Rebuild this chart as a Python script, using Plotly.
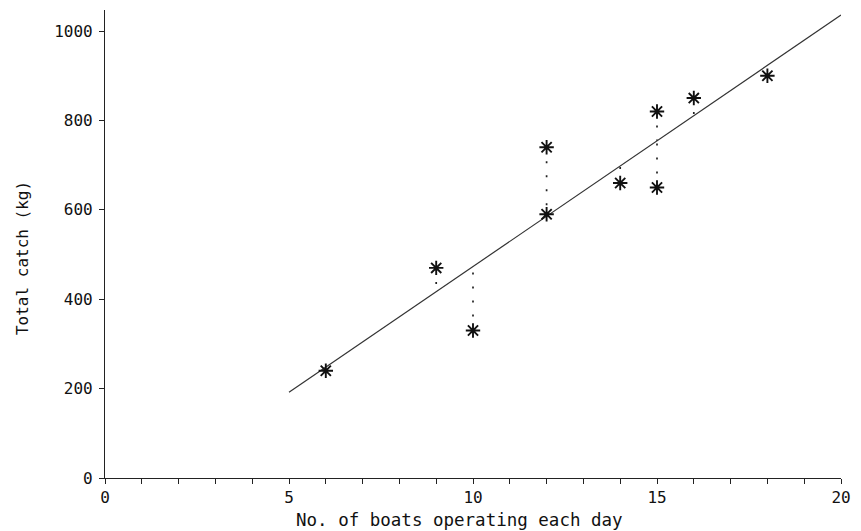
import numpy as np
import plotly.graph_objects as go

# Observed daily data
boats = [6, 9, 10, 12, 12, 14, 15, 15, 16, 18]
catch_kg = [240, 470, 330, 740, 590, 660, 820, 650, 850, 900]

x_tick_vals = list(range(0, 21))
x_tick_text = [str(v) if v % 5 == 0 else "" for v in x_tick_vals]
y_tick_vals = [0, 200, 400, 600, 800, 1000]

# Least-squares fit of catch on number of boats
slope, intercept = np.polyfit(boats, catch_kg, 1)
fit_x = np.array([5, 20])
fit_y = intercept + slope * fit_x

fig = go.Figure()

# Residuals: dotted verticals from each observation to the fitted line
for xv, yv in zip(boats, catch_kg):
    fitted = intercept + slope * xv
    fig.add_trace(go.Scatter(
        x=[xv, xv], y=[yv, fitted], mode="lines",
        line=dict(color="#222222", width=1.7, dash="2px,12px"),
        hoverinfo="skip", showlegend=False,
    ))

fig.add_trace(go.Scatter(
    x=fit_x, y=fit_y, mode="lines",
    line=dict(color="#333333", width=1.2),
    showlegend=False,
))

fig.add_trace(go.Scatter(
    x=boats, y=catch_kg, mode="markers",
    marker=dict(symbol="asterisk-open", size=12, color="#111111",
                line=dict(color="#111111", width=1.9)),
    showlegend=False,
))

font_family = "DejaVu Sans Mono, monospace"

fig.update_layout(
    width=861, height=531,
    margin=dict(l=105, r=16, t=10, b=53),
    paper_bgcolor="white", plot_bgcolor="white",
    font=dict(family=font_family, color="#111111", size=16),
    xaxis=dict(
        range=[0, 20], tickvals=x_tick_vals, ticktext=x_tick_text,
        ticks="outside", ticklen=5, tickwidth=1, tickcolor="#222222",
        showline=True, linecolor="#222222", linewidth=1.2,
        showgrid=False, zeroline=False,
        tickfont=dict(size=16),
    ),
    yaxis=dict(
        range=[0, 1047], tickvals=y_tick_vals,
        ticks="outside", ticklen=5, tickwidth=1, tickcolor="#222222",
        showline=True, linecolor="#222222", linewidth=1.2,
        showgrid=False, zeroline=False, ticklabelstandoff=3,
        tickfont=dict(size=16),
    ),
    annotations=[
        dict(text="No. of boats operating each day", xref="paper", yref="paper",
             x=0.5, xshift=-14, y=0, yshift=-42, showarrow=False,
             font=dict(size=17.5), xanchor="center", yanchor="middle"),
        dict(text="Total catch (kg)", xref="paper", yref="paper",
             x=0, xshift=-83, y=0.47, showarrow=False, textangle=-90,
             font=dict(size=16), xanchor="center", yanchor="middle"),
    ],
)

fig.write_html("out.html")
